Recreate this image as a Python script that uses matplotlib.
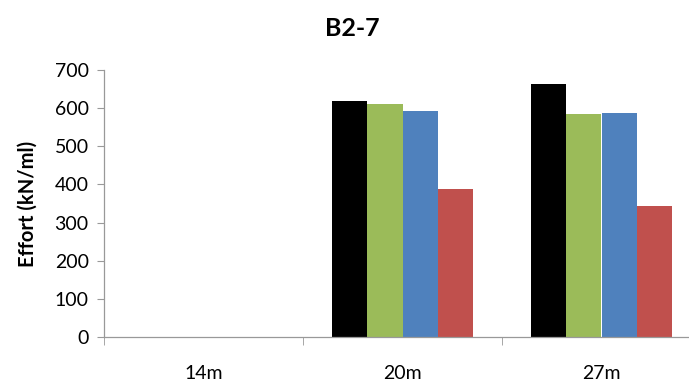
import numpy as np
import matplotlib
matplotlib.use("Agg")
import matplotlib.pyplot as plt

plt.rcParams["font.family"] = ["Lato", "DejaVu Sans"]

categories = ["14m", "20m", "27m"]
series_colors = ["#000000", "#9BBB59", "#4F81BD", "#C0504D"]
values = [
    [0, 618, 663],
    [0, 610, 585],
    [0, 592, 586],
    [0, 387, 343],
]

fig = plt.figure(figsize=(6.89, 3.82), dpi=100)
ax = fig.add_axes([104 / 689, 1 - 337 / 382, 597 / 689, 267 / 382])

x = np.arange(len(categories))
width = 0.176
for i, (vals, color) in enumerate(zip(values, series_colors)):
    offset = (i - 1.5) * width
    ax.bar(x + offset, vals, width, color=color, edgecolor="none", zorder=2)

ax.set_xlim(-0.5, 2.5)
ax.set_ylim(0, 700)
ax.set_yticks(range(0, 701, 100))
ax.set_xticks(x)
ax.set_xticklabels(categories)
ax.set_xticks([-0.5, 0.5, 1.5, 2.5], minor=True)
ax.tick_params(axis="x", which="major", length=0, pad=20, labelsize=14)
ax.tick_params(axis="x", which="minor", length=6, color="#999999", direction="out")
ax.tick_params(axis="y", length=5, color="#999999", direction="out", labelsize=14, pad=6)

for side in ["top", "right"]:
    ax.spines[side].set_visible(False)
for side in ["left", "bottom"]:
    ax.spines[side].set_color("#999999")
    ax.spines[side].set_linewidth(0.9)

ax.set_ylabel("Effort (kN/ml)", fontsize=14.5, fontweight="bold", labelpad=12)
fig.text(352 / 689, 1 - 28 / 382, "B2-7", fontsize=18, fontweight="bold",
         ha="center", va="center")

fig.savefig("out.png", dpi=100)
